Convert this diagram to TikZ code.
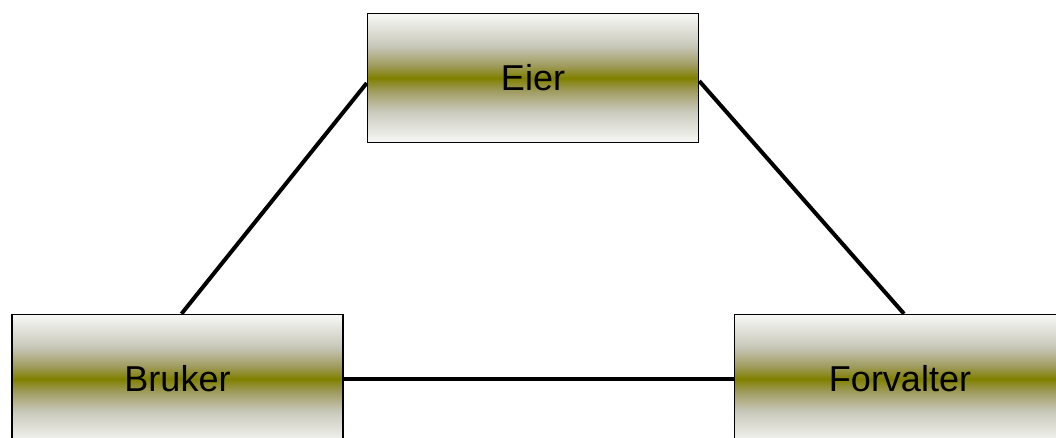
\documentclass[tikz,border=0pt]{standalone}
\usepackage{fontspec}
\setmainfont{Liberation Sans}
\usetikzlibrary{calc}
\definecolor{olv}{RGB}{128,128,0}
\definecolor{olvA}{RGB}{160,156,96}
\definecolor{olvB}{RGB}{200,200,186}
\definecolor{olvC}{RGB}{248,248,246}
\pgfdeclareverticalshading{olivebar}{100bp}{%
  color(0bp)=(olvC); color(25bp)=(olvC); color(37.5bp)=(olvB);
  color(45bp)=(olvA); color(50bp)=(olv); color(55bp)=(olvA);
  color(62.5bp)=(olvB); color(75bp)=(olvC); color(100bp)=(olvC)}
\begin{document}
\begin{tikzpicture}[x=1pt,y=-1pt,
  rolebox/.style={draw=black, line width=1.5pt, shading=olivebar,
    minimum width=331pt, minimum height=129pt, inner sep=0pt,
    font=\fontsize{36}{40}\selectfont},
  link/.style={line width=4pt, draw=black}]
\useasboundingbox (0,0) rectangle (1056,437);
\node[rolebox] (eier) at (533,78) {Eier};
\node[rolebox] (bruker) at (177.5,379) {Bruker};
\node[rolebox] (forvalter) at (900,379) {Forvalter};
\draw[link] ($(eier.west)+(0,5)$) -- ($(bruker.north)+(4,0)$);
\draw[link] ($(eier.east)+(0,3)$) -- ($(forvalter.north)+(4,0)$);
\draw[link] (bruker.east) -- (forvalter.west);
\end{tikzpicture}
\end{document}
